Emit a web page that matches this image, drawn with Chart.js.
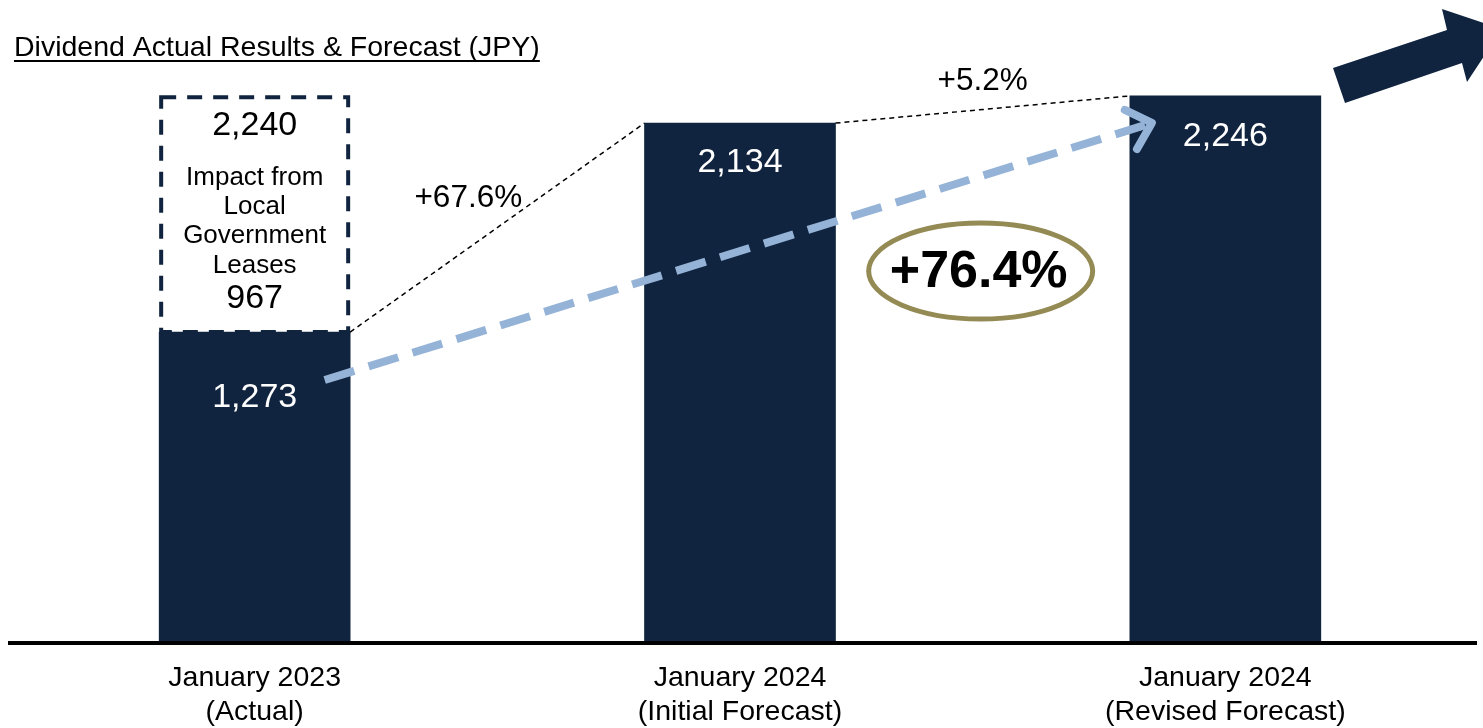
<!DOCTYPE html>
<html lang="en">
<head>
    <meta charset="UTF-8">
    <title>Dividend Actual Results &amp; Forecast (JPY)</title>
    <style>
        html, body {
            margin: 0;
            padding: 0;
            background: #fff;
        }
        .chart-box {
            width: 1483px;
            height: 728px;
            position: relative;
        }
    </style>
</head>
<body>
    <div class="chart-box">
        <canvas id="dividend-chart"></canvas>
    </div>

    <script src="https://cdn.jsdelivr.net/npm/chart.js"></script>
    <script>
        // data
        const categories = [
            ['January 2023', '(Actual)'],
            ['January 2024', '(Initial Forecast)'],
            ['January 2024', '(Revised Forecast)']
        ];
        const dividendBase = [1273, 2134, 2246];
        const leaseImpact = [967, 0, 0];
        const growthLabels = ['+67.6%', '+5.2%'];
        const totalGrowth = '+76.4%';
        const leaseText = ['Impact from', 'Local', 'Government', 'Leases'];
        const chartTitle = 'Dividend Actual Results & Forecast (JPY)';

        const NAVY = '#10243f';
        const FONT = '"Liberation Sans", Arial, sans-serif';
        Chart.defaults.font.family = FONT;

        const fmt = v => v.toLocaleString('en-US');

        const decorPlugin = {
            id: 'decor',
            afterDatasetsDraw(chart) {
                const ctx = chart.ctx;
                const area = chart.chartArea;
                const bars = chart.getDatasetMeta(0).data.map(el => el.getProps(['x', 'y', 'base', 'width'], true));
                const box = chart.getDatasetMeta(1).data[0].getProps(['x', 'y', 'base', 'width'], true);
                ctx.save();

                // title with underline
                ctx.font = '28.5px ' + FONT;
                ctx.fillStyle = '#000';
                ctx.textAlign = 'left';
                ctx.textBaseline = 'alphabetic';
                ctx.fillText(chartTitle, 14, 56);
                const tw = ctx.measureText(chartTitle).width;
                ctx.fillRect(14, 60, tw, 2);

                // x axis line (wider than the plot area)
                ctx.fillStyle = '#000';
                ctx.fillRect(8, area.bottom, 1469, 4);

                // dashed box for the lease impact
                const bl = box.x - box.width / 2;
                ctx.strokeStyle = NAVY;
                ctx.lineWidth = 4;
                ctx.setLineDash([15, 11]);
                ctx.strokeRect(bl + 2, box.y, box.width - 4, box.base - box.y);
                ctx.setLineDash([]);

                const bh = box.base - box.y;
                const bc = (box.y + box.base) / 2;
                const s = bh / 250;
                ctx.fillStyle = '#000';
                ctx.textAlign = 'center';
                ctx.textBaseline = 'middle';
                ctx.font = '34px ' + FONT;
                ctx.fillText(fmt(dividendBase[0] + leaseImpact[0]), box.x, bc - 95 * s);
                ctx.fillText(fmt(leaseImpact[0]), box.x, bc + 89 * s);
                ctx.font = '26px ' + FONT;
                leaseText.forEach((t, i) => {
                    ctx.fillText(t, box.x, bc + (-39 + i * 31) * s);
                });

                // value labels inside bars
                ctx.fillStyle = '#fff';
                ctx.font = '34px ' + FONT;
                const offs = [66, 40, 41];
                bars.forEach((b, i) => {
                    ctx.fillText(fmt(dividendBase[i]), b.x, b.y + offs[i]);
                });

                // thin dashed connectors between bar tops
                ctx.strokeStyle = '#000';
                ctx.lineWidth = 1.5;
                ctx.setLineDash([5, 4]);
                const conn = [];
                for (let i = 0; i < 2; i++) {
                    const a = bars[i], c = bars[i + 1];
                    const x1 = a.x + a.width / 2, y1 = a.y;
                    const x2 = c.x - c.width / 2, y2 = c.y;
                    ctx.beginPath();
                    ctx.moveTo(x1, y1);
                    ctx.lineTo(x2, y2);
                    ctx.stroke();
                    conn.push([(x1 + x2) / 2, (y1 + y2) / 2]);
                }
                ctx.setLineDash([]);
                ctx.fillStyle = '#000';
                ctx.font = '31.5px ' + FONT;
                ctx.fillText(growthLabels[0], conn[0][0] - 29, conn[0][1] - 29);
                ctx.fillText(growthLabels[1], conn[1][0], conn[1][1] - 28);

                // light blue dashed arrow
                const sx = bars[0].x + 70, sy = bars[0].y + 48;
                const ex = bars[2].x - bars[2].width / 2 + 22, ey = bars[2].y + 27;
                ctx.strokeStyle = '#95b3d7';
                ctx.lineWidth = 8;
                ctx.setLineDash([31, 15]);
                ctx.beginPath();
                ctx.moveTo(sx, sy);
                ctx.lineTo(ex - 6, ey + 2);
                ctx.stroke();
                ctx.setLineDash([]);
                const ang = Math.atan2(ey - sy, ex - sx);
                ctx.lineCap = 'round';
                ctx.beginPath();
                [0.75, -0.75].forEach(d => {
                    ctx.moveTo(ex, ey);
                    ctx.lineTo(ex - 30 * Math.cos(ang + d), ey - 30 * Math.sin(ang + d));
                });
                ctx.stroke();
                ctx.lineCap = 'butt';

                // ellipse with total growth
                const cx = (bars[1].x + bars[2].x) / 2 - 2;
                ctx.strokeStyle = '#948a54';
                ctx.lineWidth = 5;
                ctx.beginPath();
                ctx.ellipse(cx, 271, 112, 48, 0, 0, Math.PI * 2);
                ctx.stroke();
                ctx.fillStyle = '#000';
                ctx.font = 'bold 52px ' + FONT;
                ctx.fillText(totalGrowth, cx - 2, 273);

                // navy block arrow top right
                ctx.fillStyle = NAVY;
                ctx.beginPath();
                ctx.moveTo(1333, 68);
                ctx.lineTo(1447, 30);
                ctx.lineTo(1442, 9);
                ctx.lineTo(1502, 29);
                ctx.lineTo(1467, 82);
                ctx.lineTo(1462, 63);
                ctx.lineTo(1345, 103);
                ctx.closePath();
                ctx.fill();

                ctx.restore();
            }
        };

        const chart = new Chart(document.getElementById('dividend-chart'), {
            type: 'bar',
            data: {
                labels: categories,
                datasets: [
                    {
                        label: 'Dividend',
                        data: dividendBase,
                        backgroundColor: NAVY,
                        barThickness: 191
                    },
                    {
                        label: 'Impact from Local Government Leases',
                        data: leaseImpact,
                        backgroundColor: 'rgba(0,0,0,0)',
                        barThickness: 191
                    }
                ]
            },
            options: {
                responsive: true,
                maintainAspectRatio: false,
                animation: false,
                layout: {
                    padding: { top: 10, left: 12, right: 15, bottom: 0 }
                },
                plugins: {
                    legend: { display: false },
                    tooltip: { enabled: false }
                },
                scales: {
                    x: {
                        stacked: true,
                        grid: { display: false, drawTicks: false },
                        border: { display: false },
                        ticks: {
                            color: '#000',
                            padding: 20,
                            font: { size: 28.5, lineHeight: 1.2 }
                        },
                        afterFit(scale) {
                            scale.height = 87;
                        }
                    },
                    y: {
                        stacked: true,
                        display: false,
                        min: 0,
                        max: 2600
                    }
                }
            },
            plugins: [decorPlugin]
        });
    </script>
</body>
</html>
